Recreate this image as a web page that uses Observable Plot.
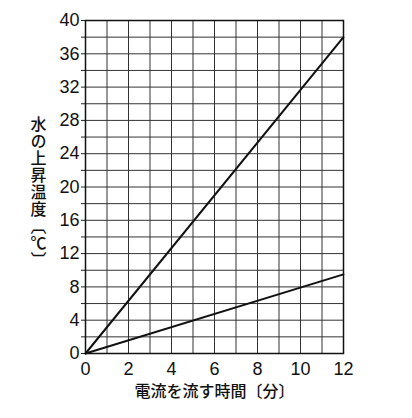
<!DOCTYPE html>
<html>
<head>
<meta charset="utf-8">
<script src="https://cdn.jsdelivr.net/npm/d3@7"></script>
<script src="https://cdn.jsdelivr.net/npm/@observablehq/plot@0.6"></script>
<style>
  body { margin: 0; background: #fff; }
</style>
</head>
<body>
<div id="chart"></div>
<script>
// Data
const times = [0, 12];                 // 電流を流す時間 (分)
const seriesA = [0, 38];               // steeper line (℃)
const seriesB = [0, 9.5];              // shallower line (℃)
const xTickLabels = [0, 2, 4, 6, 8, 10, 12];
const yTickLabels = [0, 4, 8, 12, 16, 20, 24, 28, 32, 36, 40];
const xGrid = d3.range(0, 13, 1);
const yGrid = d3.range(0, 41, 2);
const xLabel = "電流を流す時間〔分〕";
const yLabel = "水の上昇温度〔℃〕";

const dataA = times.map((t, i) => ({t, v: seriesA[i]}));
const dataB = times.map((t, i) => ({t, v: seriesB[i]}));

const chart = Plot.plot({
  width: 412,
  height: 418,
  marginLeft: 85,
  marginRight: 69,
  marginTop: 20,
  marginBottom: 65,
  style: {fontFamily: "'Liberation Sans', 'Noto Sans CJK JP', sans-serif", background: "#fff", color: "#111"},
  x: {domain: [0, 12]},
  y: {domain: [0, 40]},
  marks: [
    Plot.gridX(xGrid, {stroke: "#333", strokeOpacity: 1, strokeWidth: 1}),
    Plot.gridY(yGrid, {stroke: "#333", strokeOpacity: 1, strokeWidth: 1}),
    Plot.frame({stroke: "#111", strokeWidth: 1.5}),
    Plot.axisY(yGrid, {tickSize: 4, text: null, label: null, stroke: "#222"}),
    Plot.axisX(xTickLabels, {tickSize: 0, tickPadding: 9, fontSize: 18, label: null, fill: "#111"}),
    Plot.axisY(yTickLabels, {tickSize: 0, tickPadding: 6, fontSize: 18, label: null, fill: "#111"}),
    Plot.line(dataA, {x: "t", y: "v", stroke: "#111", strokeWidth: 2}),
    Plot.line(dataB, {x: "t", y: "v", stroke: "#111", strokeWidth: 2}),
    Plot.text([xLabel], {frameAnchor: "bottom", lineAnchor: "middle", dy: 38, fontSize: 16, fontWeight: 500,
      fontFamily: "'Noto Sans CJK JP', sans-serif", fill: "#111"}),
    Plot.text([yLabel], {frameAnchor: "left", dx: -47, fontSize: 16, fontWeight: 500,
      fontFamily: "'Noto Sans CJK JP', sans-serif", fill: "#111", className: "ylab"})
  ]
});
document.getElementById("chart").appendChild(chart);
d3.select(chart).selectAll(".ylab").attr("text-anchor", "middle");
d3.select(chart).selectAll(".ylab text")
  .attr("text-anchor", "middle")
  .attr("dy", null)
  .style("writing-mode", "vertical-rl")
  .style("text-orientation", "mixed")
  .style("letter-spacing", "1px");
</script>
</body>
</html>
